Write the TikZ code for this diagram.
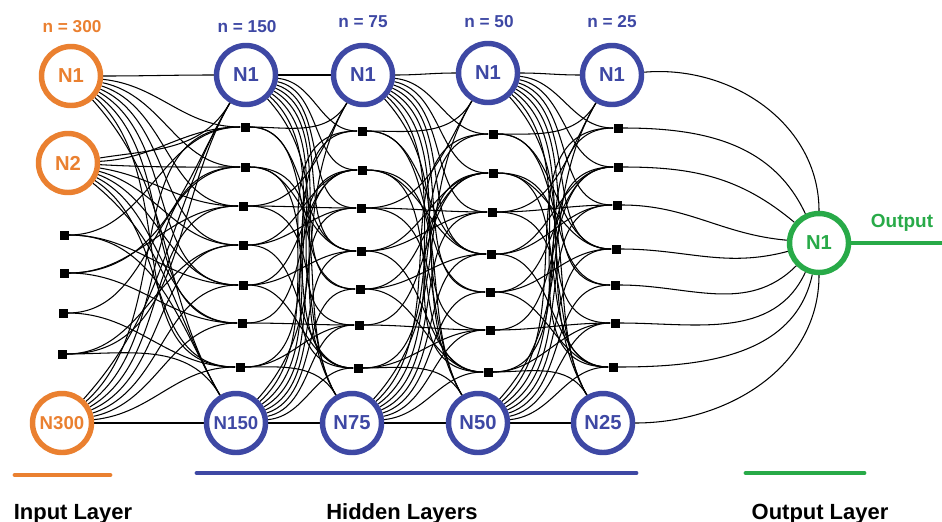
\documentclass[tikz,border=0pt]{standalone}
\usepackage{fontspec}
\setmainfont{Liberation Sans}
\usetikzlibrary{backgrounds}
\definecolor{inC}{RGB}{234,128,48}
\definecolor{hidC}{RGB}{62,72,164}
\definecolor{outC}{RGB}{40,170,72}
\newcommand\hgap[2]{%
\foreach \i in {0,...,8}{%
  \foreach \j in {0,...,8}{%
    \pgfmathtruncatemacro\isc{(\i==0)||(\i==8)}%
    \pgfmathtruncatemacro\ok{(\isc==1) || (\j==mod(\i*4,9)) || (\j==mod(\i*4+5,9)) || (\j==mod(\i*2+3,9))}%
    \ifnum\ok=1
      \pgfmathsetmacro\outa{(\isc==1) ? (-(\j-\i)*6) : 0}%
      \pgfmathsetmacro\ina{(\j==0) ? ((\i==0)?180:240) : ((\j==8) ? ((\i==8)?180:120) : 180)}%
      \draw[wire] (#1-\i) to[out=\outa,in=\ina] (#2-\j);
    \fi
  }}}
\begin{document}
\begin{tikzpicture}[x=0.02cm,y=-0.02cm,
  wire/.style={line width=0.6pt,black},
  neuron/.style={circle,line width=3.1pt,minimum size=1.18cm,inner sep=0pt,fill=white,font=\bfseries\fontsize{11.5}{12}\selectfont},
  inN/.style={neuron,draw=inC,text=inC},
  hidN/.style={neuron,draw=hidC,text=hidC},
  outN/.style={neuron,draw=outC,text=outC},
  small/.style={font=\bfseries\fontsize{10.6}{12}\selectfont},
  sq/.style={rectangle,fill=black,minimum size=0.18cm,inner sep=0pt},
  cnt/.style={font=\bfseries\fontsize{9.8}{11}\selectfont},
  layercap/.style={font=\bfseries\fontsize{12.5}{14}\selectfont,anchor=base},
  bar/.style={line width=2.8pt,line cap=round}
]
\useasboundingbox (0,0) rectangle (942,521);
% input layer
\node[inN] (in-0) at (71,76) {N1};
\node[inN] (in-1) at (68,163) {N2};
\node[sq] (in-2) at (64,235) {};
\node[sq] (in-3) at (64,273) {};
\node[sq] (in-4) at (63,313) {};
\node[sq] (in-5) at (62,354) {};
\node[inN,small] (in-6) at (62,423) {N300};
% hidden layer 1
\node[hidN] (ha-0) at (246,75) {N1};
\foreach \k/\x/\y in {1/245/127,2/245/167,3/243/206,4/243/245,5/243/285,6/242/323,7/240/367}
  \node[sq] (ha-\k) at (\x,\y) {};
\node[hidN,small] (ha-8) at (236,423) {N150};
% hidden layer 2
\node[hidN] (hb-0) at (363,75) {N1};
\foreach \k/\x/\y in {1/362/131,2/362/170,3/361/208,4/361/251,5/360/289,6/359/325,7/358/368}
  \node[sq] (hb-\k) at (\x,\y) {};
\node[hidN] (hb-8) at (352,423) {N75};
% hidden layer 3
\node[hidN] (hc-0) at (488,73) {N1};
\foreach \k/\x/\y in {1/493/134,2/493/173,3/492/212,4/491/254,5/490/292,6/490/330,7/488/372}
  \node[sq] (hc-\k) at (\x,\y) {};
\node[hidN] (hc-8) at (478,423) {N50};
% hidden layer 4
\node[hidN] (hd-0) at (612,75) {N1};
\foreach \k/\x/\y in {1/618/128,2/618/167,3/617/205,4/616/249,5/615/285,6/615/323,7/613/367}
  \node[sq] (hd-\k) at (\x,\y) {};
\node[hidN] (hd-8) at (603,423) {N25};
% output
\node[outN] (out) at (819,243) {N1};
\coordinate (oend) at (942,243);

% counts
\node[cnt,text=inC] at (72,27) {n = 300};
\node[cnt,text=hidC] at (247,27) {n = 150};
\node[cnt,text=hidC] at (363,22) {n = 75};
\node[cnt,text=hidC] at (489,22) {n = 50};
\node[cnt,text=hidC] at (612,22) {n = 25};
\node[font=\bfseries\fontsize{10.8}{12}\selectfont,text=outC] at (902,223) {Output};

\begin{pgfonlayer}{background}
% input gap
\foreach \s/\lv/\tl in {in-0/0/{0,1,2,3,4,5,6,7,8},in-1/1.5/{0,1,2,3,4,5,6,7,8},in-6/8/{0,1,2,3,4,5,6,7,8}}{
  \foreach \j in \tl {
    \pgfmathsetmacro\outa{-(\j-\lv)*6}%
    \pgfmathsetmacro\ina{(\j==0) ? ((\lv==0)?180:240) : ((\j==8) ? ((\lv==8)?180:120) : 180)}%
    \draw[wire] (\s) to[out=\outa,in=\ina] (ha-\j);
  }}
\foreach \s/\tl in {in-2/{1,5,8},in-3/{0,3,6},in-4/{2,7},in-5/{0,4,8}}{
  \foreach \j in \tl {
    \pgfmathsetmacro\ina{(\j==0) ? 240 : ((\j==8) ? 120 : 180)}%
    \draw[wire] (\s) to[out=0,in=\ina] (ha-\j);
  }}
\hgap{ha}{hb}
\hgap{hb}{hc}
\hgap{hc}{hd}
% output gap
\draw[wire] (hd-0) to[out=5,in=90] (out);
\foreach \k/\a in {1/115,2/140,3/175,4/195,5/225,6/245,7/258}
  \draw[wire] (hd-\k) to[out=0,in=\a] (out);
\draw[wire] (hd-8) to[out=0,in=270] (out);
\end{pgfonlayer}
\draw[outC,line width=2.3pt] (out) -- (oend);

% bottom bars and captions
\draw[bar,inC] (15,475) -- (110,475);
\draw[bar,hidC] (197,473) -- (636,473);
\draw[bar,outC] (746,473) -- (864,473);
\node[layercap] at (73,519) {Input Layer};
\node[layercap] at (402,519) {Hidden Layers};
\node[layercap] at (820,519) {Output Layer};
\end{tikzpicture}
\end{document}
